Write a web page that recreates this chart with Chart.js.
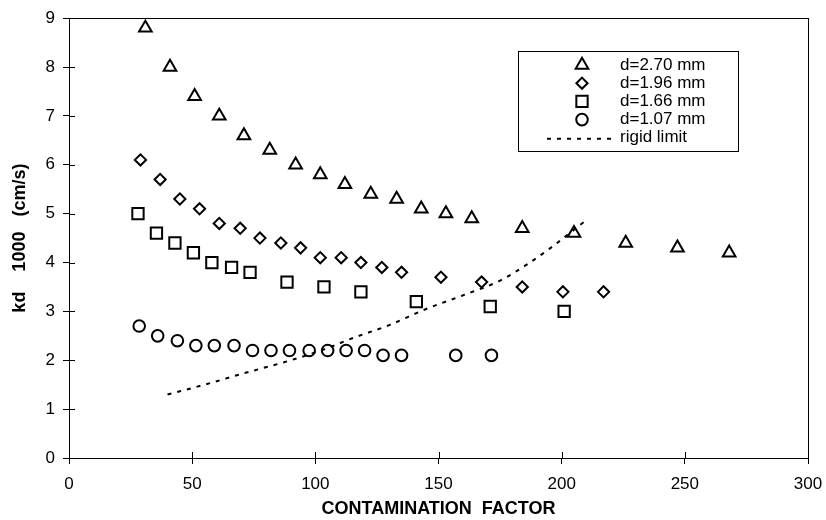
<!DOCTYPE html>
<html><head><meta charset="utf-8">
<script src="https://cdn.jsdelivr.net/npm/chart.js@4/dist/chart.umd.min.js"></script>
<style>html,body{margin:0;padding:0;background:#fff;}#wrap{width:826px;height:520px;position:relative;}</style>
</head><body><div id="wrap"><canvas id="c"></canvas></div>
<script>
// ---- data ----
const seriesLabels = ['d=2.70 mm', 'd=1.96 mm', 'd=1.66 mm', 'd=1.07 mm', 'rigid limit'];
const x270 = [31, 41, 51, 61, 71, 81.5, 92, 102, 112, 122.5, 133, 143, 153, 163.5, 184, 205, 226, 247, 268];
const y270 = [8.8, 8.0, 7.4, 7.0, 6.6, 6.3, 6.0, 5.8, 5.6, 5.4, 5.3, 5.1, 5.0, 4.9, 4.7, 4.6, 4.4, 4.3, 4.2];
const x196 = [29, 37, 45, 53, 61, 69.5, 77.5, 86, 94, 102, 110.5, 118.5, 127, 135, 151, 167.5, 184, 200.5, 217];
const y196 = [6.1, 5.7, 5.3, 5.1, 4.8, 4.7, 4.5, 4.4, 4.3, 4.1, 4.1, 4.0, 3.9, 3.8, 3.7, 3.6, 3.5, 3.4, 3.4];
const x166 = [28, 35.5, 43, 50.5, 58, 66, 73.5, 88.5, 103.5, 118.5, 141, 171, 201];
const y166 = [5.0, 4.6, 4.4, 4.2, 4.0, 3.9, 3.8, 3.6, 3.5, 3.4, 3.2, 3.1, 3.0];
const x107 = [28.5, 36, 44, 51.5, 59, 67, 74.5, 82, 89.5, 97.5, 105, 112.5, 120, 127.5, 135, 157, 171.5];
const y107 = [2.7, 2.5, 2.4, 2.3, 2.3, 2.3, 2.2, 2.2, 2.2, 2.2, 2.2, 2.2, 2.2, 2.1, 2.1, 2.1, 2.1];
const xRigid = [40, 55, 70, 90, 105, 115, 130, 145, 160, 175, 185, 195, 209];
const yRigid = [1.3, 1.5, 1.72, 2.0, 2.25, 2.45, 2.72, 3.05, 3.33, 3.63, 3.93, 4.28, 4.83];
const xTickValues = [0, 50, 100, 150, 200, 250, 300];
const yTickValues = [0, 1, 2, 3, 4, 5, 6, 7, 8, 9];
const xTitle = 'CONTAMINATION  FACTOR';
const yTitle = 'kd    1000   (cm/s)';

const pts = (xs, ys) => xs.map((x, i) => ({x: x, y: ys[i]}));
const FONT = "'Liberation Sans', Arial, sans-serif";

const markerStyle = (shape, r) => ({
  type: 'scatter', showLine: false, pointStyle: shape, pointRadius: r, pointHoverRadius: r,
  pointBorderWidth: 2, pointBorderColor: '#000', pointBackgroundColor: 'rgba(0,0,0,0)',
  borderColor: '#000', backgroundColor: 'rgba(0,0,0,0)'
});

const datasets = [
  Object.assign({label: seriesLabels[0], data: pts(x270, y270)}, markerStyle('triangle', 7.3)),
  Object.assign({label: seriesLabels[1], data: pts(x196, y196)}, markerStyle('rectRot', 5.6)),
  Object.assign({label: seriesLabels[2], data: pts(x166, y166)}, markerStyle('rect', 8)),
  Object.assign({label: seriesLabels[3], data: pts(x107, y107)}, markerStyle('circle', 5.8)),
  {label: seriesLabels[4], type: 'line', data: pts(xRigid, yRigid), showLine: true,
   borderColor: '#000', borderWidth: 2, borderDash: [4, 6], pointRadius: 0, fill: false,
   cubicInterpolationMode: 'monotone'}
];

// frame + inner tick marks
const framePlugin = {
  id: 'frame',
  afterDraw(chart) {
    const {ctx, chartArea: a, scales} = chart;
    ctx.save();
    ctx.strokeStyle = '#000';
    ctx.lineWidth = 1;
    ctx.strokeRect(Math.round(a.left) + 0.5, Math.round(a.top) + 0.5, Math.round(a.right - a.left), Math.round(a.bottom - a.top));
    ctx.beginPath();
    yTickValues.forEach(v => {
      const y = Math.round(scales.y.getPixelForValue(v)) + 0.5;
      ctx.moveTo(a.left, y); ctx.lineTo(a.left + 6, y);
    });
    xTickValues.forEach(v => {
      const x = Math.round(scales.x.getPixelForValue(v)) + 0.5;
      ctx.moveTo(x, a.bottom); ctx.lineTo(x, a.bottom - 6);
    });
    ctx.stroke();
    ctx.restore();
  }
};

// legend box drawn from dataset labels/styles
const legendPlugin = {
  id: 'boxLegend',
  afterDraw(chart) {
    const ctx = chart.ctx;
    const box = {l: 518, t: 51, r: 738, b: 151};
    ctx.save();
    ctx.fillStyle = '#fff';
    ctx.fillRect(box.l, box.t, box.r - box.l, box.b - box.t);
    ctx.strokeStyle = '#000';
    ctx.lineWidth = 1;
    ctx.strokeRect(box.l + 0.5, box.t + 0.5, box.r - box.l, box.b - box.t);
    const mx = 582, tx = 620, y0 = 65, dy = 18.2;
    ctx.font = '17px ' + FONT;
    ctx.textBaseline = 'middle';
    ctx.textAlign = 'left';
    chart.data.datasets.forEach((ds, i) => {
      const y = y0 + i * dy;
      if (ds.type === 'line') {
        ctx.save();
        ctx.setLineDash(ds.borderDash);
        ctx.lineWidth = ds.borderWidth;
        ctx.strokeStyle = ds.borderColor;
        ctx.beginPath(); ctx.moveTo(547, y + 1); ctx.lineTo(617, y + 1); ctx.stroke();
        ctx.restore();
      } else {
        ctx.save();
        ctx.strokeStyle = '#000'; ctx.fillStyle = 'rgba(0,0,0,0)'; ctx.lineWidth = 2;
        Chart.helpers.drawPoint(ctx, {pointStyle: ds.pointStyle, radius: ds.pointRadius, rotation: 0, borderWidth: 2}, mx, y);
        ctx.restore();
      }
      ctx.fillStyle = '#000';
      ctx.fillText(ds.label, tx, y);
    });
    ctx.restore();
  }
};

new Chart(document.getElementById('c'), {
  data: {datasets: datasets},
  options: {
    responsive: true, maintainAspectRatio: false, animation: false,
    events: [],
    layout: {padding: {top: 18, right: 18, left: 0, bottom: 0}},
    plugins: {legend: {display: false}, tooltip: {enabled: false}},
    scales: {
      x: {
        type: 'linear', min: 0, max: 300,
        afterBuildTicks: s => { s.ticks = xTickValues.map(v => ({value: v})); },
        afterFit: s => { s.height = 62; s.paddingLeft = 0; s.paddingRight = 0; },
        grid: {display: true, drawOnChartArea: false, drawTicks: true, tickLength: 6, color: '#000', lineWidth: 1},
        border: {display: true, color: '#000', width: 1},
        ticks: {color: '#000', font: {family: FONT, size: 17}, padding: 10, maxRotation: 0},
        title: {display: true, text: xTitle, color: '#000', font: {family: FONT, size: 18, weight: 'bold'}, padding: {top: 0, bottom: 0}}
      },
      y: {
        type: 'linear', min: 0, max: 9,
        afterBuildTicks: s => { s.ticks = yTickValues.map(v => ({value: v})); },
        afterFit: s => { s.width = 69; },
        grid: {display: true, drawOnChartArea: false, drawTicks: true, tickLength: 6, color: '#000', lineWidth: 1},
        border: {display: true, color: '#000', width: 1},
        ticks: {color: '#000', font: {family: FONT, size: 17}, padding: 8},
        title: {display: true, text: yTitle, color: '#000', font: {family: FONT, size: 18, weight: 'bold'}, padding: {top: 9, bottom: 0}}
      }
    }
  },
  plugins: [framePlugin, legendPlugin]
});
</script></body></html>
